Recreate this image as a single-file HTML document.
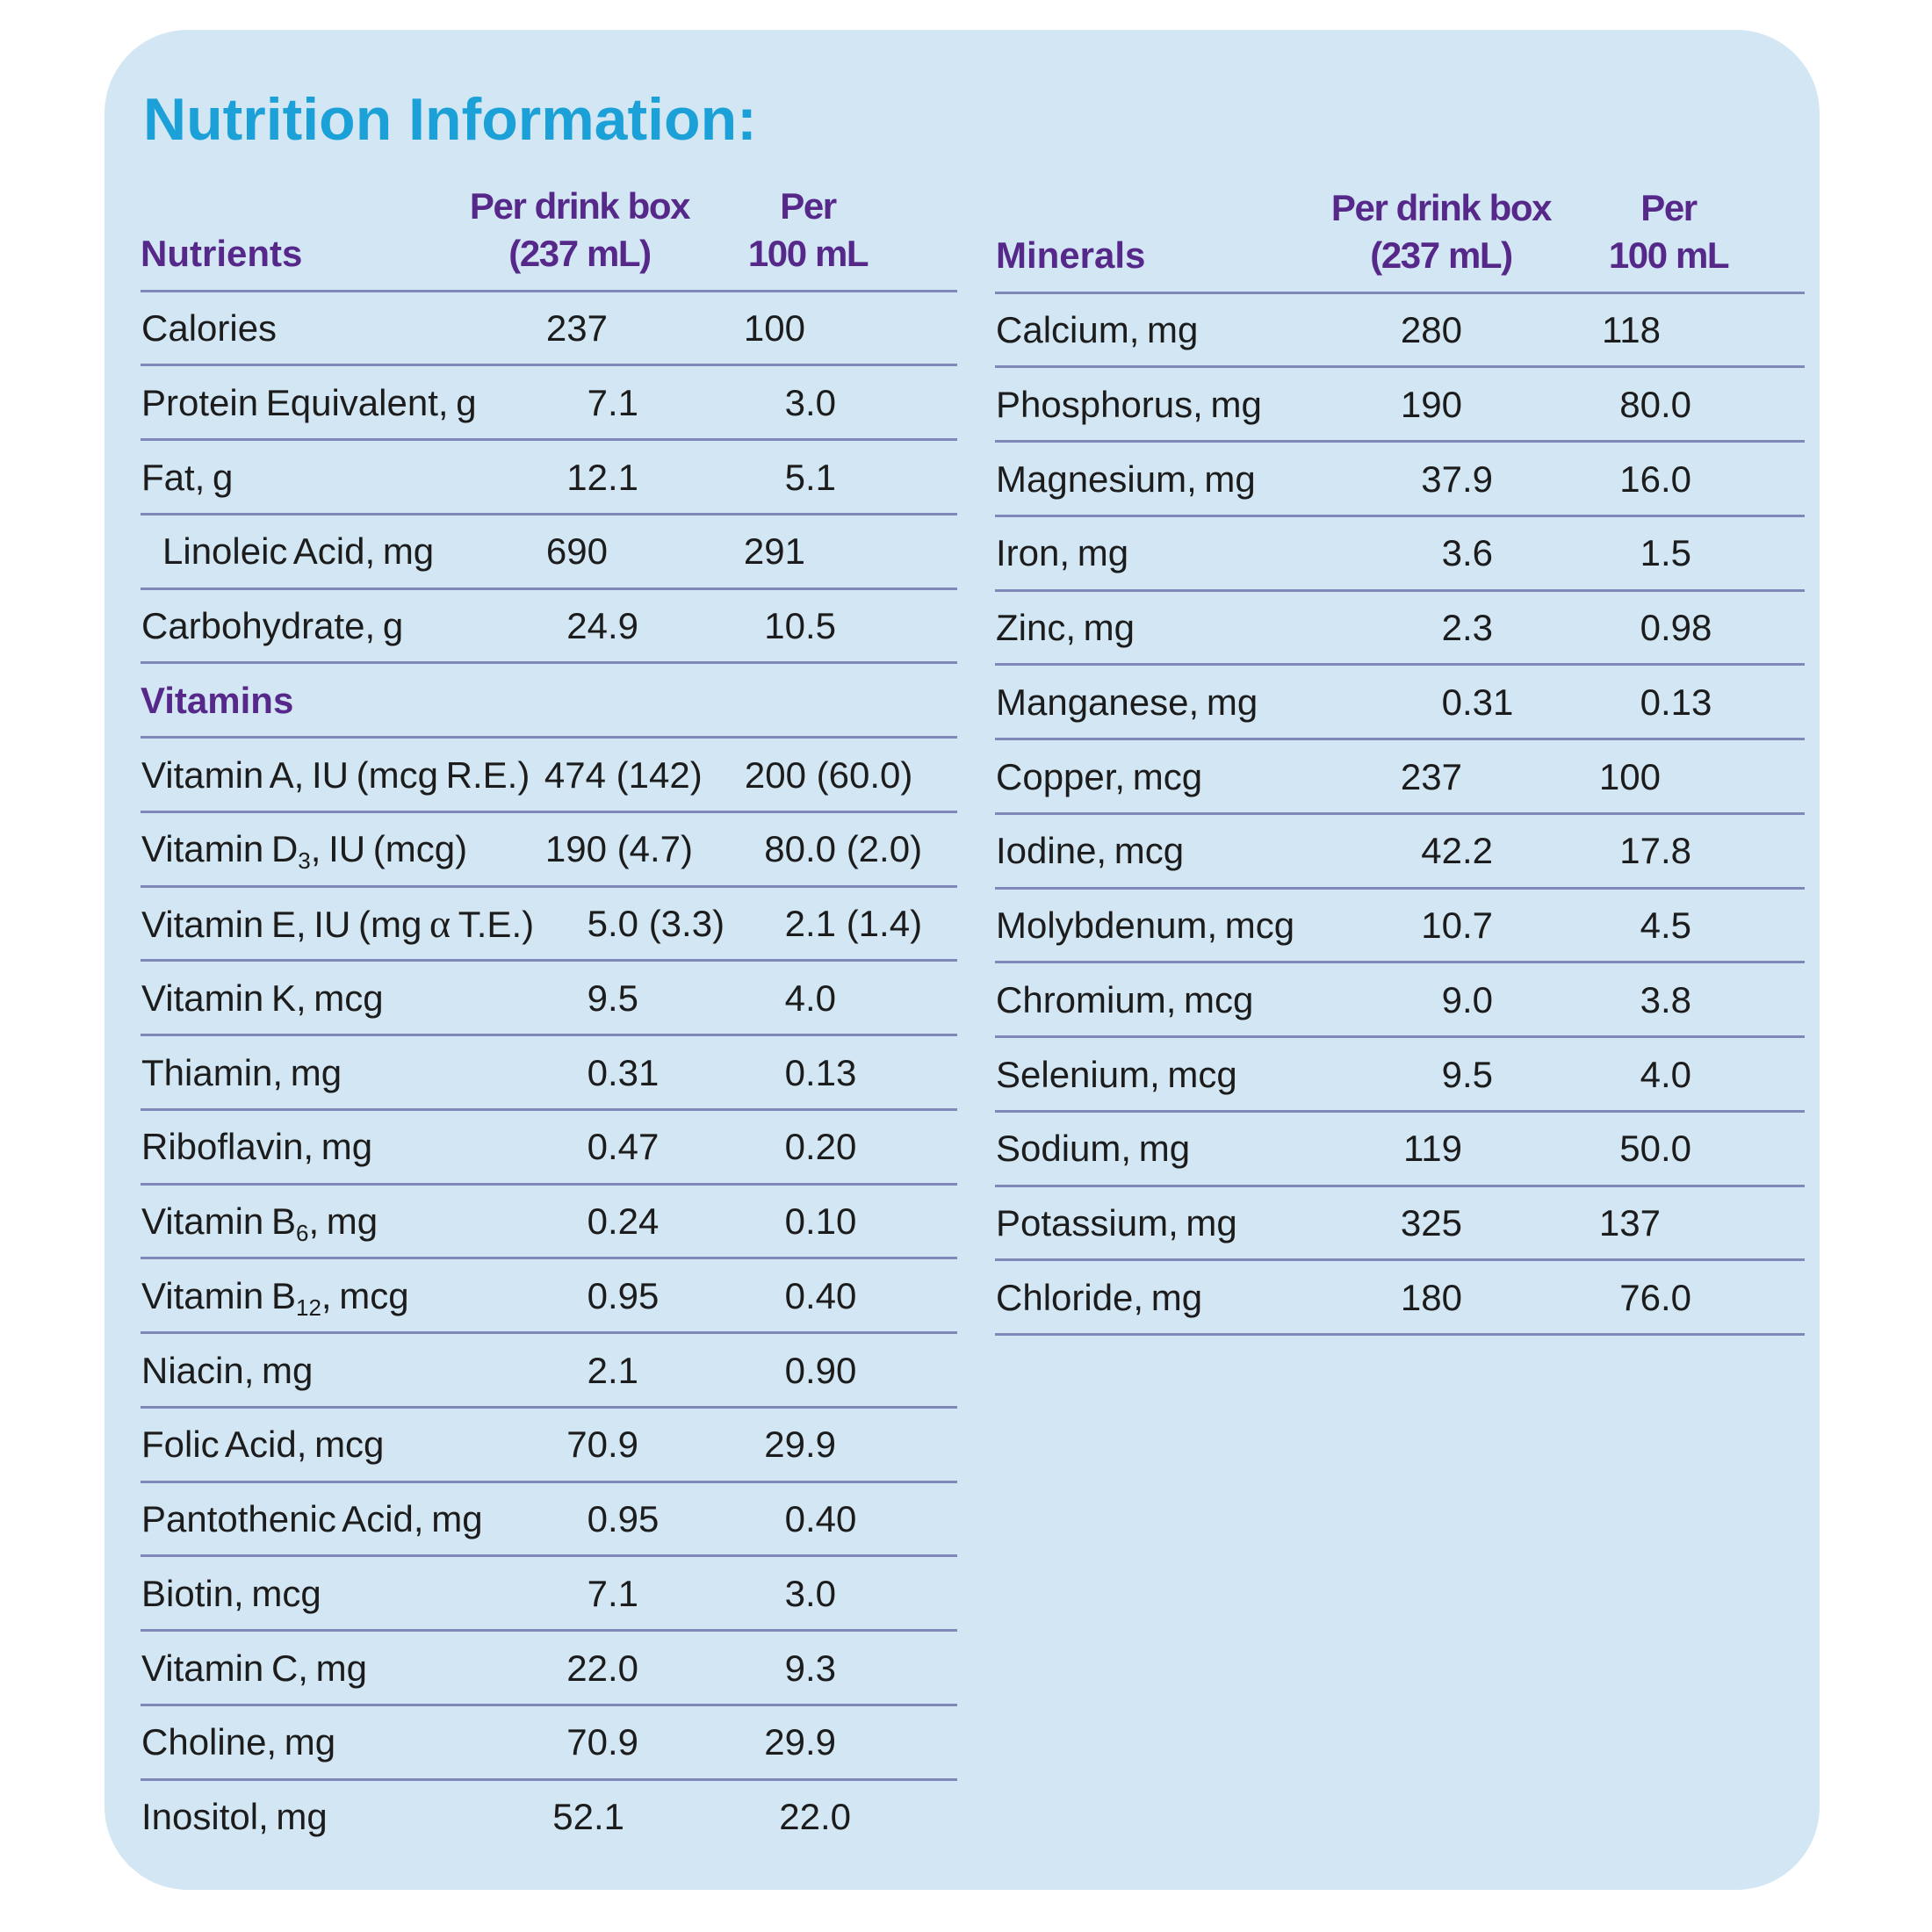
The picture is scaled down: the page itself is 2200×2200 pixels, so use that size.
<!DOCTYPE html>
<html>
<head>
<meta charset="utf-8">
<style>
html,body{margin:0;padding:0;background:#ffffff;}
body{width:2200px;height:2200px;position:relative;overflow:hidden;font-family:"Liberation Sans",Arial,sans-serif;}
.box{position:absolute;left:119px;top:34px;width:1953px;height:2118px;border-radius:95px;background:#d2e6f3;}
.t{position:absolute;white-space:pre;font-size:42px;line-height:42px;color:#1c1c1c;word-spacing:-3px;margin-top:-2px;}
.title{position:absolute;left:163px;top:102px;font-size:68px;line-height:68px;font-weight:bold;color:#1ba1d7;letter-spacing:0px;white-space:pre;}
.h{position:absolute;white-space:pre;font-size:42px;line-height:42px;font-weight:bold;color:#55288a;}
.hc{position:absolute;white-space:pre;font-size:42px;line-height:42px;font-weight:bold;color:#55288a;letter-spacing:-1.4px;width:400px;text-align:center;}
.ln{position:absolute;height:3px;background:#8088b8;}
.d{position:absolute;width:0;height:42px;font-size:42px;line-height:42px;color:#1c1c1c;margin-top:-2px;}
.d span{position:absolute;top:0;white-space:pre;}
.d .i{right:0;}
.d .f{left:0;}
sub{font-size:26px;vertical-align:-8px;line-height:0;}
.al{font-family:"Liberation Serif",serif;font-size:46px;}
</style>
</head>
<body>
<div class="box"></div>
<div class="title">Nutrition Information:</div>

<!-- LEFT HEADER -->
<div class="h" style="left:160px;top:268px;">Nutrients</div>
<div class="hc" style="left:460px;top:214px;">Per drink box</div>
<div class="hc" style="left:460px;top:268px;">(237 mL)</div>
<div class="hc" style="left:720px;top:214px;">Per</div>
<div class="hc" style="left:720px;top:268px;">100 mL</div>

<!-- RIGHT HEADER -->
<div class="h" style="left:1134px;top:270px;">Minerals</div>
<div class="hc" style="left:1441px;top:216px;">Per drink box</div>
<div class="hc" style="left:1441px;top:270px;">(237 mL)</div>
<div class="hc" style="left:1700px;top:216px;">Per</div>
<div class="hc" style="left:1700px;top:270px;">100 mL</div>

<!-- LEFT LINES -->
<div class="ln" style="left:160px;width:930px;top:329.5px;"></div>
<div class="ln" style="left:160px;width:930px;top:414.25px;"></div>
<div class="ln" style="left:160px;width:930px;top:499px;"></div>
<div class="ln" style="left:160px;width:930px;top:583.75px;"></div>
<div class="ln" style="left:160px;width:930px;top:668.5px;"></div>
<div class="ln" style="left:160px;width:930px;top:753.25px;"></div>
<div class="ln" style="left:160px;width:930px;top:838px;"></div>
<div class="ln" style="left:160px;width:930px;top:922.75px;"></div>
<div class="ln" style="left:160px;width:930px;top:1007.5px;"></div>
<div class="ln" style="left:160px;width:930px;top:1092.25px;"></div>
<div class="ln" style="left:160px;width:930px;top:1177px;"></div>
<div class="ln" style="left:160px;width:930px;top:1261.75px;"></div>
<div class="ln" style="left:160px;width:930px;top:1346.5px;"></div>
<div class="ln" style="left:160px;width:930px;top:1431.25px;"></div>
<div class="ln" style="left:160px;width:930px;top:1516px;"></div>
<div class="ln" style="left:160px;width:930px;top:1600.75px;"></div>
<div class="ln" style="left:160px;width:930px;top:1685.5px;"></div>
<div class="ln" style="left:160px;width:930px;top:1770.25px;"></div>
<div class="ln" style="left:160px;width:930px;top:1855px;"></div>
<div class="ln" style="left:160px;width:930px;top:1939.75px;"></div>
<div class="ln" style="left:160px;width:930px;top:2024.5px;"></div>

<!-- RIGHT LINES -->
<div class="ln" style="left:1133px;width:922px;top:331.5px;"></div>
<div class="ln" style="left:1133px;width:922px;top:416.25px;"></div>
<div class="ln" style="left:1133px;width:922px;top:501px;"></div>
<div class="ln" style="left:1133px;width:922px;top:585.75px;"></div>
<div class="ln" style="left:1133px;width:922px;top:670.5px;"></div>
<div class="ln" style="left:1133px;width:922px;top:755.25px;"></div>
<div class="ln" style="left:1133px;width:922px;top:840px;"></div>
<div class="ln" style="left:1133px;width:922px;top:924.75px;"></div>
<div class="ln" style="left:1133px;width:922px;top:1009.5px;"></div>
<div class="ln" style="left:1133px;width:922px;top:1094.25px;"></div>
<div class="ln" style="left:1133px;width:922px;top:1179px;"></div>
<div class="ln" style="left:1133px;width:922px;top:1263.75px;"></div>
<div class="ln" style="left:1133px;width:922px;top:1348.5px;"></div>
<div class="ln" style="left:1133px;width:922px;top:1433.25px;"></div>
<div class="ln" style="left:1133px;width:922px;top:1518px;"></div>

<!-- LEFT ROWS -->
<div class="t" style="left:161px;top:355px;">Calories</div>
<div class="d" style="left:692px;top:355px;"><span class="i">237</span></div>
<div class="d" style="left:917px;top:355px;"><span class="i">100</span></div>

<div class="t" style="left:161px;top:439.75px;">Protein Equivalent, g</div>
<div class="d" style="left:692px;top:439.75px;"><span class="i">7</span><span class="f">.1</span></div>
<div class="d" style="left:917px;top:439.75px;"><span class="i">3</span><span class="f">.0</span></div>

<div class="t" style="left:161px;top:524.5px;">Fat, g</div>
<div class="d" style="left:692px;top:524.5px;"><span class="i">12</span><span class="f">.1</span></div>
<div class="d" style="left:917px;top:524.5px;"><span class="i">5</span><span class="f">.1</span></div>

<div class="t" style="left:185px;top:609.25px;">Linoleic Acid, mg</div>
<div class="d" style="left:692px;top:609.25px;"><span class="i">690</span></div>
<div class="d" style="left:917px;top:609.25px;"><span class="i">291</span></div>

<div class="t" style="left:161px;top:694px;">Carbohydrate, g</div>
<div class="d" style="left:692px;top:694px;"><span class="i">24</span><span class="f">.9</span></div>
<div class="d" style="left:917px;top:694px;"><span class="i">10</span><span class="f">.5</span></div>

<div class="h" style="left:160px;top:777px;">Vitamins</div>

<div class="t" style="left:161px;top:863.5px;">Vitamin A, IU (mcg R.E.)</div>
<div class="d" style="left:690px;top:863.5px;"><span class="i">474</span><span class="f"> (142)</span></div>
<div class="d" style="left:918px;top:863.5px;"><span class="i">200</span><span class="f"> (60.0)</span></div>

<div class="t" style="left:161px;top:948.25px;">Vitamin D<sub>3</sub>, IU (mcg)</div>
<div class="d" style="left:691px;top:948.25px;"><span class="i">190</span><span class="f"> (4.7)</span></div>
<div class="d" style="left:917px;top:948.25px;"><span class="i">80</span><span class="f">.0 (2.0)</span></div>

<div class="t" style="left:161px;top:1033px;">Vitamin E, IU (mg <span class="al">α</span> T.E.)</div>
<div class="d" style="left:692px;top:1033px;"><span class="i">5</span><span class="f">.0 (3.3)</span></div>
<div class="d" style="left:917px;top:1033px;"><span class="i">2</span><span class="f">.1 (1.4)</span></div>

<div class="t" style="left:161px;top:1117.75px;">Vitamin K, mcg</div>
<div class="d" style="left:692px;top:1117.75px;"><span class="i">9</span><span class="f">.5</span></div>
<div class="d" style="left:917px;top:1117.75px;"><span class="i">4</span><span class="f">.0</span></div>

<div class="t" style="left:161px;top:1202.5px;">Thiamin, mg</div>
<div class="d" style="left:692px;top:1202.5px;"><span class="i">0</span><span class="f">.31</span></div>
<div class="d" style="left:917px;top:1202.5px;"><span class="i">0</span><span class="f">.13</span></div>

<div class="t" style="left:161px;top:1287.25px;">Riboflavin, mg</div>
<div class="d" style="left:692px;top:1287.25px;"><span class="i">0</span><span class="f">.47</span></div>
<div class="d" style="left:917px;top:1287.25px;"><span class="i">0</span><span class="f">.20</span></div>

<div class="t" style="left:161px;top:1372px;">Vitamin B<sub>6</sub>, mg</div>
<div class="d" style="left:692px;top:1372px;"><span class="i">0</span><span class="f">.24</span></div>
<div class="d" style="left:917px;top:1372px;"><span class="i">0</span><span class="f">.10</span></div>

<div class="t" style="left:161px;top:1456.75px;">Vitamin B<sub>12</sub>, mcg</div>
<div class="d" style="left:692px;top:1456.75px;"><span class="i">0</span><span class="f">.95</span></div>
<div class="d" style="left:917px;top:1456.75px;"><span class="i">0</span><span class="f">.40</span></div>

<div class="t" style="left:161px;top:1541.5px;">Niacin, mg</div>
<div class="d" style="left:692px;top:1541.5px;"><span class="i">2</span><span class="f">.1</span></div>
<div class="d" style="left:917px;top:1541.5px;"><span class="i">0</span><span class="f">.90</span></div>

<div class="t" style="left:161px;top:1626.25px;">Folic Acid, mcg</div>
<div class="d" style="left:692px;top:1626.25px;"><span class="i">70</span><span class="f">.9</span></div>
<div class="d" style="left:917px;top:1626.25px;"><span class="i">29</span><span class="f">.9</span></div>

<div class="t" style="left:161px;top:1711px;">Pantothenic Acid, mg</div>
<div class="d" style="left:692px;top:1711px;"><span class="i">0</span><span class="f">.95</span></div>
<div class="d" style="left:917px;top:1711px;"><span class="i">0</span><span class="f">.40</span></div>

<div class="t" style="left:161px;top:1795.75px;">Biotin, mcg</div>
<div class="d" style="left:692px;top:1795.75px;"><span class="i">7</span><span class="f">.1</span></div>
<div class="d" style="left:917px;top:1795.75px;"><span class="i">3</span><span class="f">.0</span></div>

<div class="t" style="left:161px;top:1880.5px;">Vitamin C, mg</div>
<div class="d" style="left:692px;top:1880.5px;"><span class="i">22</span><span class="f">.0</span></div>
<div class="d" style="left:917px;top:1880.5px;"><span class="i">9</span><span class="f">.3</span></div>

<div class="t" style="left:161px;top:1965.25px;">Choline, mg</div>
<div class="d" style="left:692px;top:1965.25px;"><span class="i">70</span><span class="f">.9</span></div>
<div class="d" style="left:917px;top:1965.25px;"><span class="i">29</span><span class="f">.9</span></div>

<div class="t" style="left:161px;top:2050px;">Inositol, mg</div>
<div class="d" style="left:676px;top:2050px;"><span class="i">52</span><span class="f">.1</span></div>
<div class="d" style="left:934px;top:2050px;"><span class="i">22</span><span class="f">.0</span></div>

<!-- RIGHT ROWS -->
<div class="t" style="left:1134px;top:357px;">Calcium, mg</div>
<div class="d" style="left:1665px;top:357px;"><span class="i">280</span></div>
<div class="d" style="left:1891px;top:357px;"><span class="i">118</span></div>

<div class="t" style="left:1134px;top:441.75px;">Phosphorus, mg</div>
<div class="d" style="left:1665px;top:441.75px;"><span class="i">190</span></div>
<div class="d" style="left:1891px;top:441.75px;"><span class="i">80</span><span class="f">.0</span></div>

<div class="t" style="left:1134px;top:526.5px;">Magnesium, mg</div>
<div class="d" style="left:1665px;top:526.5px;"><span class="i">37</span><span class="f">.9</span></div>
<div class="d" style="left:1891px;top:526.5px;"><span class="i">16</span><span class="f">.0</span></div>

<div class="t" style="left:1134px;top:611.25px;">Iron, mg</div>
<div class="d" style="left:1665px;top:611.25px;"><span class="i">3</span><span class="f">.6</span></div>
<div class="d" style="left:1891px;top:611.25px;"><span class="i">1</span><span class="f">.5</span></div>

<div class="t" style="left:1134px;top:696px;">Zinc, mg</div>
<div class="d" style="left:1665px;top:696px;"><span class="i">2</span><span class="f">.3</span></div>
<div class="d" style="left:1891px;top:696px;"><span class="i">0</span><span class="f">.98</span></div>

<div class="t" style="left:1134px;top:780.75px;">Manganese, mg</div>
<div class="d" style="left:1665px;top:780.75px;"><span class="i">0</span><span class="f">.31</span></div>
<div class="d" style="left:1891px;top:780.75px;"><span class="i">0</span><span class="f">.13</span></div>

<div class="t" style="left:1134px;top:865.5px;">Copper, mcg</div>
<div class="d" style="left:1665px;top:865.5px;"><span class="i">237</span></div>
<div class="d" style="left:1891px;top:865.5px;"><span class="i">100</span></div>

<div class="t" style="left:1134px;top:950.25px;">Iodine, mcg</div>
<div class="d" style="left:1665px;top:950.25px;"><span class="i">42</span><span class="f">.2</span></div>
<div class="d" style="left:1891px;top:950.25px;"><span class="i">17</span><span class="f">.8</span></div>

<div class="t" style="left:1134px;top:1035px;">Molybdenum, mcg</div>
<div class="d" style="left:1665px;top:1035px;"><span class="i">10</span><span class="f">.7</span></div>
<div class="d" style="left:1891px;top:1035px;"><span class="i">4</span><span class="f">.5</span></div>

<div class="t" style="left:1134px;top:1119.75px;">Chromium, mcg</div>
<div class="d" style="left:1665px;top:1119.75px;"><span class="i">9</span><span class="f">.0</span></div>
<div class="d" style="left:1891px;top:1119.75px;"><span class="i">3</span><span class="f">.8</span></div>

<div class="t" style="left:1134px;top:1204.5px;">Selenium, mcg</div>
<div class="d" style="left:1665px;top:1204.5px;"><span class="i">9</span><span class="f">.5</span></div>
<div class="d" style="left:1891px;top:1204.5px;"><span class="i">4</span><span class="f">.0</span></div>

<div class="t" style="left:1134px;top:1289.25px;">Sodium, mg</div>
<div class="d" style="left:1665px;top:1289.25px;"><span class="i">119</span></div>
<div class="d" style="left:1891px;top:1289.25px;"><span class="i">50</span><span class="f">.0</span></div>

<div class="t" style="left:1134px;top:1374px;">Potassium, mg</div>
<div class="d" style="left:1665px;top:1374px;"><span class="i">325</span></div>
<div class="d" style="left:1891px;top:1374px;"><span class="i">137</span></div>

<div class="t" style="left:1134px;top:1458.75px;">Chloride, mg</div>
<div class="d" style="left:1665px;top:1458.75px;"><span class="i">180</span></div>
<div class="d" style="left:1891px;top:1458.75px;"><span class="i">76</span><span class="f">.0</span></div>

</body>
</html>
